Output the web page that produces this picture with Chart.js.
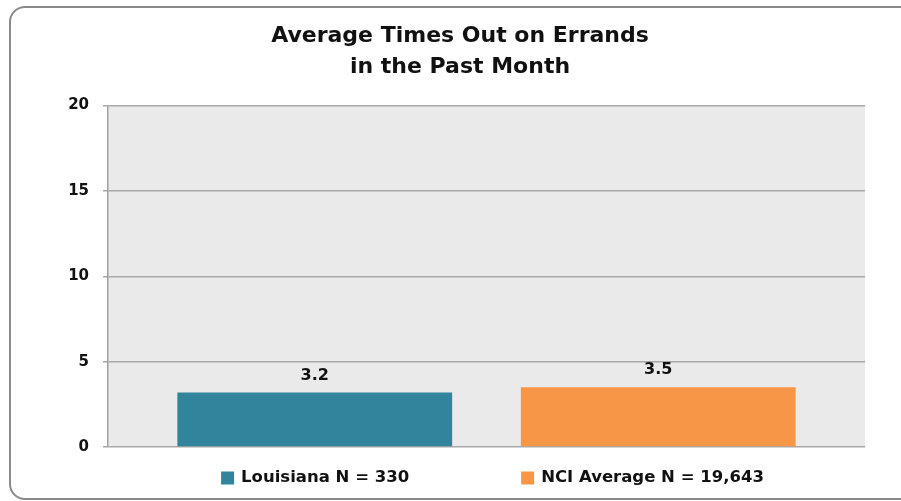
<!DOCTYPE html>
<html>
<head>
<meta charset="utf-8">
<script src="https://cdn.jsdelivr.net/npm/chart.js@4.4.0/dist/chart.umd.min.js"></script>
<style>
  html, body { margin: 0; padding: 0; background: #fff; overflow: hidden; }
  #wrap { position: relative; width: 901px; height: 501px; }
  #frame {
    position: absolute; left: 9px; top: 6px; width: 930px; height: 490px;
    border: 2px solid #8a8a8a; border-radius: 16px;
  }
  #myChart { position: absolute; left: 0; top: 0; }
</style>
</head>
<body>
<div id="wrap">
  <div id="frame"></div>
  <canvas id="myChart" width="901" height="501"></canvas>
</div>
<script>
// dados
var titleLines = ['Average Times Out on Errands', 'in the Past Month'];
var categories = [''];
var seriesNames = ['Louisiana N = 330', 'NCI Average N = 19,643'];
var louisianaValues = [3.2];
var nciValues = [3.5];
var yTicks = [0, 5, 10, 15, 20];

var seriesColors = ['#31849B', '#F79646'];
var fontFamily = "'DejaVu Sans', sans-serif";

// fundo cinza da area do grafico
var plotBg = {
  id: 'plotBg',
  beforeDraw: function (chart) {
    var a = chart.chartArea, ctx = chart.ctx;
    ctx.save();
    ctx.fillStyle = '#EAEAEA';
    ctx.fillRect(a.left, a.top, a.right - a.left, a.bottom - a.top);
    ctx.restore();
  }
};

// valores em cima das barras
var valueLabels = {
  id: 'valueLabels',
  afterDatasetsDraw: function (chart) {
    var ctx = chart.ctx;
    ctx.save();
    ctx.font = 'bold 16px ' + fontFamily;
    ctx.fillStyle = '#111';
    ctx.textAlign = 'center';
    ctx.textBaseline = 'middle';
    chart.data.datasets.forEach(function (ds, i) {
      chart.getDatasetMeta(i).data.forEach(function (bar, j) {
        ctx.fillText(ds.data[j].toFixed(1), bar.x, bar.y - 17);
      });
    });
    ctx.restore();
  }
};

// legenda desenhada a mao (espaco grande entre itens)
var bottomLegend = {
  id: 'bottomLegend',
  afterDraw: function (chart) {
    var ctx = chart.ctx;
    var box = 13, gap = 7, spacing = 112;
    ctx.save();
    ctx.font = 'bold 16.5px ' + fontFamily;
    var items = chart.data.datasets.map(function (ds) {
      return { text: ds.label, color: ds.backgroundColor, w: ctx.measureText(ds.label).width };
    });
    var total = 0;
    items.forEach(function (it, i) { total += box + gap + it.w + (i ? spacing : 0); });
    var center = (chart.chartArea.left + chart.chartArea.right) / 2 + 6;
    var x = center - total / 2, y = 478;
    ctx.textBaseline = 'middle';
    ctx.textAlign = 'left';
    items.forEach(function (it) {
      ctx.fillStyle = it.color;
      ctx.fillRect(x, y - box / 2, box, box);
      ctx.fillStyle = '#111';
      ctx.fillText(it.text, x + box + gap, y);
      x += box + gap + it.w + spacing;
    });
    ctx.restore();
  }
};

var ctx = document.getElementById('myChart').getContext('2d');
var myChart = new Chart(ctx, {
  type: 'bar',
  data: {
    labels: categories,
    datasets: [
      {
        label: seriesNames[0],
        data: louisianaValues,
        backgroundColor: seriesColors[0],
        categoryPercentage: 0.9075,
        barPercentage: 0.8
      },
      {
        label: seriesNames[1],
        data: nciValues,
        backgroundColor: seriesColors[1],
        categoryPercentage: 0.9075,
        barPercentage: 0.8
      }
    ]
  },
  options: {
    responsive: false,
    animation: false,
    layout: { padding: { left: 55, right: 36, top: 0, bottom: 54 } },
    plugins: {
      legend: { display: false },
      tooltip: { enabled: false },
      title: {
        display: true,
        text: titleLines,
        color: '#111',
        font: { family: fontFamily, size: 22, weight: 'bold', lineHeight: 1.4 },
        padding: { top: 21, bottom: 23 }
      }
    },
    scales: {
      x: { display: false },
      y: {
        min: 0,
        max: 20,
        afterBuildTicks: function (scale) {
          scale.ticks = yTicks.map(function (v) { return { value: v }; });
        },
        afterFit: function (scale) { scale.width = 53; },
        border: { display: true, color: '#a0a0a0', width: 1.5 },
        grid: { color: '#a8a8a8', lineWidth: 1.5, tickLength: 5, drawTicks: true },
        ticks: {
          padding: 14,
          color: '#111',
          font: { family: fontFamily, size: 15, weight: 'bold' }
        }
      }
    }
  },
  plugins: [plotBg, valueLabels, bottomLegend]
});
</script>
</body>
</html>
